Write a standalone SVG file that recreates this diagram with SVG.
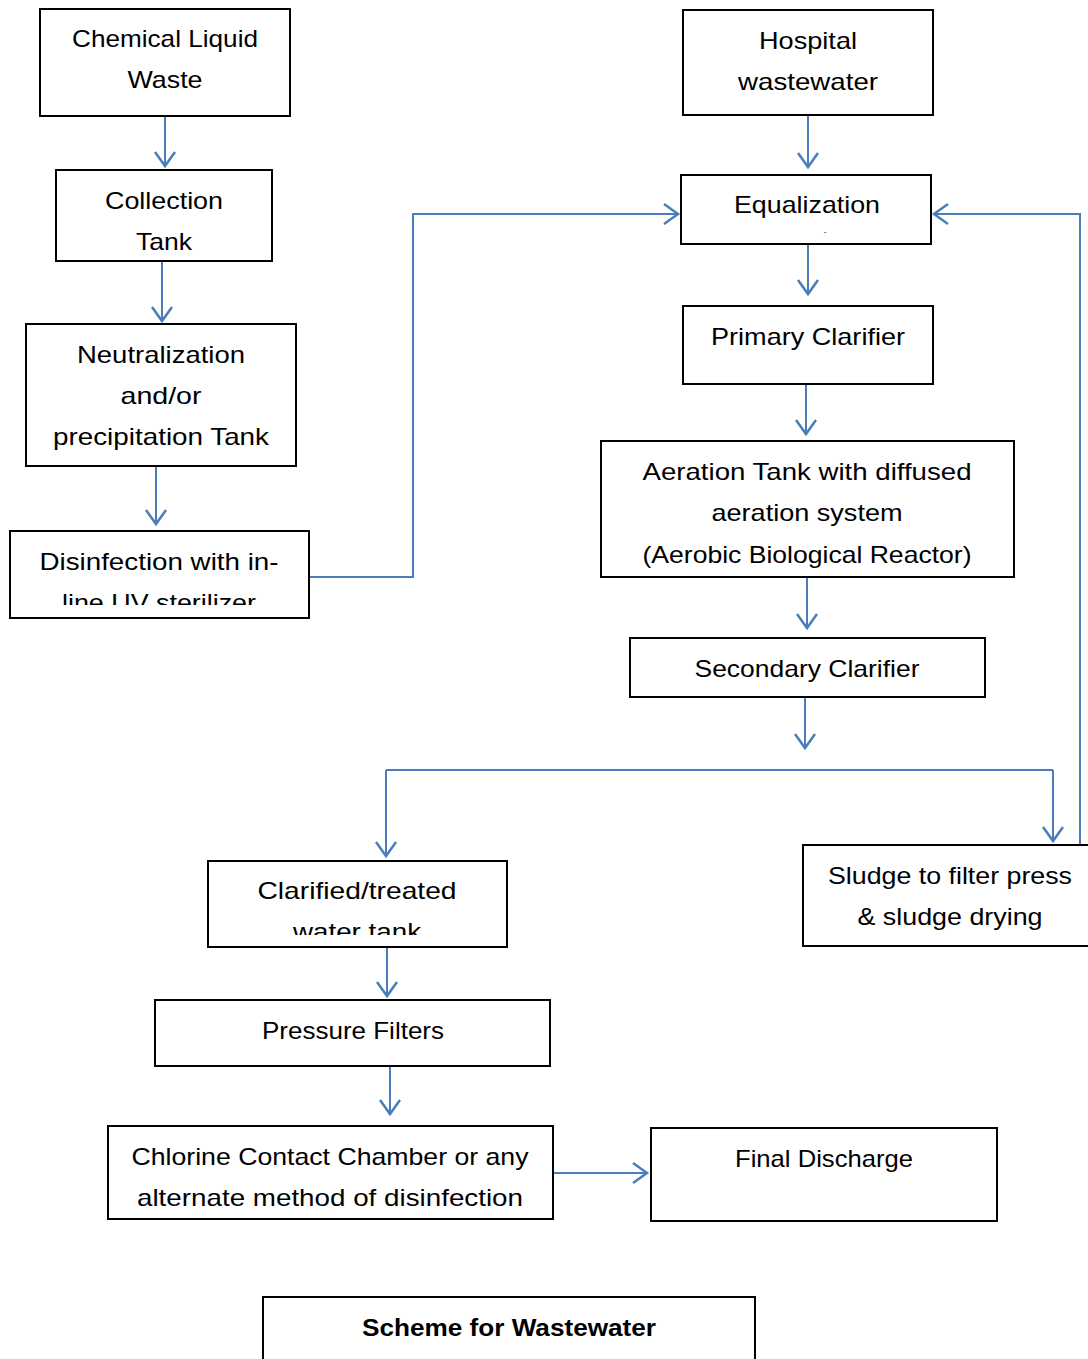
<svg xmlns="http://www.w3.org/2000/svg" width="1088" height="1359" viewBox="0 0 1088 1359">
<style>
.box{fill:#fff;stroke:#000;stroke-width:2}
.t{font-family:"Liberation Sans",Arial,sans-serif;font-size:24px;fill:#000;text-anchor:middle}
.b{font-weight:bold}
.c{fill:none;stroke:#4a7ebb;stroke-width:2}
</style>
<defs>
<marker id="ah" markerUnits="userSpaceOnUse" markerWidth="26" markerHeight="26" refX="20" refY="12" orient="auto">
<path d="M6,2 L20,12 L6,22" fill="none" stroke="#4a7ebb" stroke-width="2.5"/>
</marker>
<clipPath id="clipDis"><rect x="11" y="532" width="297" height="73"/></clipPath>
<clipPath id="clipClar"><rect x="209" y="862" width="297" height="73"/></clipPath>
</defs>
<rect width="1088" height="1359" fill="#fff"/>
<g id="connectors">
<line class="c" x1="165" y1="117" x2="165" y2="166" marker-end="url(#ah)"/>
<line class="c" x1="162" y1="262" x2="162" y2="321" marker-end="url(#ah)"/>
<line class="c" x1="156" y1="467" x2="156" y2="524" marker-end="url(#ah)"/>
<polyline class="c" points="310,577 413,577 413,214 678,214" marker-end="url(#ah)"/>
<line class="c" x1="808" y1="116" x2="808" y2="167" marker-end="url(#ah)"/>
<line class="c" x1="808" y1="245" x2="808" y2="294" marker-end="url(#ah)"/>
<line class="c" x1="806" y1="385" x2="806" y2="434" marker-end="url(#ah)"/>
<line class="c" x1="807" y1="578" x2="807" y2="628" marker-end="url(#ah)"/>
<line class="c" x1="805" y1="698" x2="805" y2="748" marker-end="url(#ah)"/>
<line class="c" x1="386" y1="770" x2="1053" y2="770"/>
<line class="c" x1="386" y1="770" x2="386" y2="856" marker-end="url(#ah)"/>
<line class="c" x1="1053" y1="770" x2="1053" y2="841" marker-end="url(#ah)"/>
<polyline class="c" points="1080,845 1080,214 934,214" marker-end="url(#ah)"/>
<line class="c" x1="387" y1="948" x2="387" y2="996" marker-end="url(#ah)"/>
<line class="c" x1="390" y1="1067" x2="390" y2="1114" marker-end="url(#ah)"/>
<line class="c" x1="554" y1="1173" x2="647" y2="1173" marker-end="url(#ah)"/>
</g>
<g id="chemical-liquid-waste">
<rect class="box" x="40" y="9" width="250" height="107"/>
<text class="t" x="165" y="47" textLength="186" lengthAdjust="spacingAndGlyphs">Chemical Liquid</text>
<text class="t" x="165" y="88" textLength="75" lengthAdjust="spacingAndGlyphs">Waste</text>
</g>
<g id="collection-tank">
<rect class="box" x="56" y="170" width="216" height="91"/>
<text class="t" x="164" y="209" textLength="118" lengthAdjust="spacingAndGlyphs">Collection</text>
<text class="t" x="164" y="250" textLength="56" lengthAdjust="spacingAndGlyphs">Tank</text>
</g>
<g id="neutralization">
<rect class="box" x="26" y="324" width="270" height="142"/>
<text class="t" x="161" y="363" textLength="168" lengthAdjust="spacingAndGlyphs">Neutralization</text>
<text class="t" x="161" y="404" textLength="81" lengthAdjust="spacingAndGlyphs">and/or</text>
<text class="t" x="161" y="445" textLength="216" lengthAdjust="spacingAndGlyphs">precipitation Tank</text>
</g>
<g id="disinfection">
<rect class="box" x="10" y="531" width="299" height="87"/>
<g clip-path="url(#clipDis)">
<text class="t" x="159" y="570" textLength="239" lengthAdjust="spacingAndGlyphs">Disinfection with in-</text>
<text class="t" x="159" y="611" textLength="194" lengthAdjust="spacingAndGlyphs">line UV sterilizer</text>
</g>
</g>
<g id="hospital-wastewater">
<rect class="box" x="683" y="10" width="250" height="105"/>
<text class="t" x="808" y="49" textLength="98" lengthAdjust="spacingAndGlyphs">Hospital</text>
<text class="t" x="808" y="90" textLength="140" lengthAdjust="spacingAndGlyphs">wastewater</text>
</g>
<g id="equalization">
<rect class="box" x="681" y="175" width="250" height="69"/>
<text class="t" x="807" y="213" textLength="146" lengthAdjust="spacingAndGlyphs">Equalization</text>
<text class="t" x="825" y="234" style="font-size:8px">-</text>
</g>
<g id="primary-clarifier">
<rect class="box" x="683" y="306" width="250" height="78"/>
<text class="t" x="808" y="345" textLength="194" lengthAdjust="spacingAndGlyphs">Primary Clarifier</text>
</g>
<g id="aeration-tank">
<rect class="box" x="601" y="441" width="413" height="136"/>
<text class="t" x="807" y="480" textLength="329" lengthAdjust="spacingAndGlyphs">Aeration Tank with diffused</text>
<text class="t" x="807" y="521" textLength="191" lengthAdjust="spacingAndGlyphs">aeration system</text>
<text class="t" x="807" y="563" textLength="329" lengthAdjust="spacingAndGlyphs">(Aerobic Biological Reactor)</text>
</g>
<g id="secondary-clarifier">
<rect class="box" x="630" y="638" width="355" height="59"/>
<text class="t" x="807" y="677" textLength="225" lengthAdjust="spacingAndGlyphs">Secondary Clarifier</text>
</g>
<g id="clarified-water-tank">
<rect class="box" x="208" y="861" width="299" height="86"/>
<g clip-path="url(#clipClar)">
<text class="t" x="357" y="899" textLength="199" lengthAdjust="spacingAndGlyphs">Clarified/treated</text>
<text class="t" x="357" y="940" textLength="128" lengthAdjust="spacingAndGlyphs">water tank</text>
</g>
</g>
<g id="sludge">
<rect class="box" x="803" y="845" width="300" height="101"/>
<text class="t" x="950" y="884" textLength="244" lengthAdjust="spacingAndGlyphs">Sludge to filter press</text>
<text class="t" x="950" y="925" textLength="185" lengthAdjust="spacingAndGlyphs">&amp; sludge drying</text>
</g>
<g id="pressure-filters">
<rect class="box" x="155" y="1000" width="395" height="66"/>
<text class="t" x="353" y="1039" textLength="182" lengthAdjust="spacingAndGlyphs">Pressure Filters</text>
</g>
<g id="chlorine-contact">
<rect class="box" x="108" y="1126" width="445" height="93"/>
<text class="t" x="330" y="1165" textLength="397" lengthAdjust="spacingAndGlyphs">Chlorine Contact Chamber or any</text>
<text class="t" x="330" y="1206" textLength="386" lengthAdjust="spacingAndGlyphs">alternate method of disinfection</text>
</g>
<g id="final-discharge">
<rect class="box" x="651" y="1128" width="346" height="93"/>
<text class="t" x="824" y="1167" textLength="178" lengthAdjust="spacingAndGlyphs">Final Discharge</text>
</g>
<g id="title">
<rect class="box" x="263" y="1297" width="492" height="80"/>
<text class="t b" x="509" y="1336" textLength="294" lengthAdjust="spacingAndGlyphs">Scheme for Wastewater</text>
</g>
</svg>
